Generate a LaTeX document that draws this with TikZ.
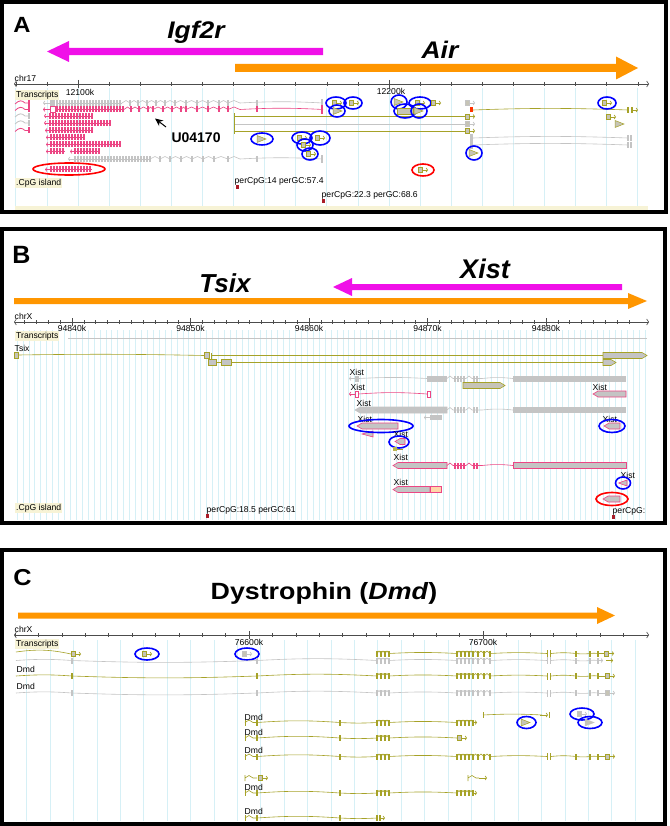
\documentclass[tikz,border=0pt]{standalone}
\usepackage{fontspec}
\setmainfont{Liberation Sans}
\usetikzlibrary{arrows.meta}

\definecolor{geneMagenta}{RGB}{240,16,232}
\definecolor{geneOrange}{RGB}{255,150,0}
\definecolor{txPink}{RGB}{236,70,132}
\definecolor{txGray}{RGB}{196,196,196}
\definecolor{txOlive}{RGB}{166,162,40}
\definecolor{exonFill}{RGB}{198,196,182}
\definecolor{gridCyan}{RGB}{214,240,246}
\definecolor{labelBeige}{RGB}{247,243,214}
\definecolor{cpgRed}{RGB}{170,28,40}
\definecolor{utrOrange}{RGB}{255,214,170}

% gene extent arrow: colour, tail x, tip x, y, half shaft, head length, half head
\newcommand{\genearrow}[7]{%
  \pgfmathsetmacro\gaBase{#3+#6*sign(#2-#3)}%
  \fill[#1] (#2,#4-#5) -- (\gaBase,#4-#5) -- (\gaBase,#4-#7) -- (#3,#4)
    -- (\gaBase,#4+#7) -- (\gaBase,#4+#5) -- (#2,#4+#5) -- cycle;}
% exons every few px along a line: colour, y, first, second, last
\newcommand{\exonrun}[5]{%
  \draw[#1,line width=0.6pt] (#3,#2) -- (#5,#2);
  \foreach \ex in {#3,#4,...,#5} \fill[#1] (\ex-0.9,#2-3) rectangle (\ex+0.9,#2+3);}
% single exons at listed x
\newcommand{\exonset}[3]{%
  \foreach \ex in {#3} \fill[#1] (\ex-0.9,#2-3) rectangle (\ex+0.9,#2+3);}
% zigzag introns between listed x: colour, y, start x, list
\newcommand{\zigrow}[4]{%
  \foreach \zb [remember=\zb as \za (initially #3)] in {#4}
    \draw[#1,line width=0.6pt] (\za,#2) -- ({(\za+\zb)/2},#2-2.5) -- (\zb,#2);}
% small exon with forward arrow
\newcommand{\exarrow}[3]{%
  \filldraw[fill=exonFill,draw=#1,line width=0.5pt] (#2-3,#3-2.5) rectangle (#2+1,#3+2.5);
  \draw[#1,line width=0.7pt,-{Straight Barb[length=1.5pt,width=4pt]}] (#2+1,#3) -- (#2+7,#3);}
% small forward triangle
\newcommand{\extri}[3]{%
  \filldraw[fill=exonFill,draw=#1,line width=0.5pt] (#2-4,#3-3.5) -- (#2+5,#3) -- (#2-4,#3+3.5) -- cycle;}
% pointed boxes: outline, fill, x0, x1, y
\newcommand{\revbox}[5]{%
  \filldraw[fill=#2,draw=#1,line width=0.6pt] (#3,#5) -- (#3+5,#5-3) -- (#4,#5-3) -- (#4,#5+3) -- (#3+5,#5+3) -- cycle;}
\newcommand{\fwdbox}[5]{%
  \filldraw[fill=#2,draw=#1,line width=0.6pt] (#4,#5) -- (#4-5,#5-3) -- (#3,#5-3) -- (#3,#5+3) -- (#4-5,#5+3) -- cycle;}
% left squiggle icon of a track row
\newcommand{\txicon}[2]{%
  \draw[#1,line width=0.8pt] (15,#2+1) .. controls (19,#2-3) and (22,#2-3) .. (25,#2) -- (29,#2);
  \fill[#1] (27.5,#2-3) rectangle (29.5,#2+3);}
% ellipse round a hit: style, x, y, rx, ry
\newcommand{\hit}[5]{\draw[#1] (#2,#3) ellipse [x radius=#4pt, y radius=#5pt];}
% reverse tip: colour, from x, to x, y
\newcommand{\revtip}[4]{%
  \draw[#1,line width=0.7pt,-{Straight Barb[length=1.5pt,width=4pt]}] (#2,#4) -- (#3,#4);}
% Xist middle exons: colour, y
\newcommand{\xistmid}[2]{%
  \draw[#1,line width=0.6pt] (447,#2) -- (450,#2-2.5) -- (453,#2) -- (466,#2) -- (469,#2-2.5) -- (472,#2) -- (482,#2) to[bend left=6] (513,#2);
  \foreach \ex in {455,458,461,464,474,477} \fill[#1] (\ex-1,#2-3) rectangle (\ex+1,#2+3);}
% Dmd left part: colour, y
\newcommand{\dmdleft}[2]{%
  \draw[#1,line width=0.6pt] (16,#2) to[bend left=4] (72,#2) to[bend right=2] (257,#2) to[bend left=3] (377,#2);
  \exonset{#1}{#2}{72,257}}
% Dmd start at 76600k: colour, y
\newcommand{\dmdstart}[2]{%
  \draw[#1,line width=0.6pt] (245,#2-3) -- (245,#2+3);
  \draw[#1,line width=0.6pt] (245,#2) -- (249,#2-2.5) -- (253,#2) -- (257,#2) to[bend left=4] (340,#2) to[bend right=3] (377,#2);
  \exonset{#1}{#2}{257,340}}
% Dmd exons right of 76600k: colour, y
\newcommand{\dmdcore}[2]{%
  \exonset{#1}{#2}{377}
  \zigrow{#1}{#2}{377}{381,385,389}
  \exonset{#1}{#2}{381,385,389}
  \draw[#1,line width=0.6pt] (389,#2) to[bend left=3] (457,#2);
  \zigrow{#1}{#2}{457}{461,465,469,473,478,484,490}
  \exonset{#1}{#2}{457,461,465,469,473,478,484,490}
  \draw[#1,line width=0.6pt] (490,#2) to[bend left=3] (547,#2);
  \fill[#1] (546.5,#2-3.5) rectangle (548,#2+3.5);
  \fill[#1] (549.5,#2-3.5) rectangle (551,#2+3.5);
  \draw[#1,line width=0.6pt] (551,#2) to[bend left=6] (576,#2) to[bend right=6] (590,#2) to[bend left=8] (598,#2);
  \exonset{#1}{#2}{576,590,598}}

\begin{document}
\begin{tikzpicture}[x=1pt,y=-1pt,
    panelFrame/.style={line width=3.6pt},
    panelLetter/.style={font=\fontsize{#1}{#1}\selectfont\bfseries, anchor=base, inner sep=0pt},
    geneTitle/.style={font=\fontsize{#1}{#1}\selectfont\bfseries\itshape, anchor=base, inner sep=0pt},
    browserText/.style={font=\fontsize{8.6}{9}\selectfont, inner sep=0.5pt},
    trackLabel/.style={browserText, fill=labelBeige, inner sep=1pt, anchor=west},
    rowLabel/.style={browserText, anchor=west},
    rulerLine/.style={line width=0.6pt, black!70},
    rulerEnds/.style={rulerLine, {Straight Barb[length=2pt,width=6pt]}-{Straight Barb[length=2pt,width=6pt]}},
    gridLine/.style={gridCyan, line width=0.7pt},
    hitBlue/.style={blue, line width=1.6pt},
    hitRed/.style={red, line width=1.6pt},
    intron/.style={line width=0.6pt},
    fwdTip/.style={line width=0.7pt, -{Straight Barb[length=1.5pt,width=4pt]}},
]
\useasboundingbox (0,0) rectangle (669,826);
\fill[white] (0,0) rectangle (669,826);

% Panel A: Igf2r and Air
\foreach \gk in {0,...,20} \draw[gridLine] (15.8+31.1*\gk,88) -- (15.8+31.1*\gk,206);
\fill[labelBeige] (15,206) rectangle (648,210);
\node[panelLetter=22, xscale=1.08] (labA) at (22,33) {A};
\node[geneTitle=24, xscale=1.1] (titleIgf) at (196,38.5) {Igf2r};
\node[geneTitle=24, xscale=1.1] (titleAir) at (440,59) {Air};
\genearrow{geneMagenta}{323}{47}{51.5}{3.7}{22}{10.5}
\genearrow{geneOrange}{235}{638}{68}{4}{22}{11.5}
% ruler
\node[browserText, anchor=south west] (chrA) at (14,82) {chr17};
\draw[rulerEnds] (14,84) -- (649,84);
\foreach \gk in {0,...,20} \draw[rulerLine] (15.8+31.1*\gk,82) -- (15.8+31.1*\gk,86);
\draw[rulerLine] (78,80) -- (78,88) (389,80) -- (389,88);
\node[browserText] (tickA1) at (80,92) {12100k};
\node[browserText] (tickA2) at (391,91) {12200k};
\node[trackLabel] (trA) at (15,95) {Transcripts};
% left icons
\txicon{txPink}{103}
\txicon{txPink}{109.5}
\txicon{txGray}{116}
\txicon{txGray}{123}
\txicon{txPink}{130.5}
% Igf2r transcripts
\revtip{txGray}{50}{43}{103}
\fill[txGray] (50,100) rectangle (55,106);
\exonrun{txGray}{103}{57}{60}{122}
\zigrow{txGray}{103}{122}{130,138,147,156,165,175,186,197,208,219,228,240}
\exonset{txGray}{103}{130,138,147,156,165,175,186,197,208,219,228,257}
\draw[txGray,intron] (240,103) to[bend left=3] (323,103);
\fill[txGray] (321,99) rectangle (323,107);
\revtip{txPink}{50}{43}{109.5}
\draw[txPink,line width=0.6pt] (50,106.5) rectangle (55,112.5);
\exonrun{txPink}{109.5}{57}{60}{124}
\zigrow{txPink}{109.5}{124}{131,139,148,153,163,172,181,186,197,208,219,228,240}
\exonset{txPink}{109.5}{131,139,148,153,163,172,181,186,197,208,219,228,257}
\draw[txPink,intron] (240,109.5) to[bend left=3] (323,109.5);
\fill[txPink] (321,105) rectangle (323,114);
\revtip{txPink}{50}{44}{116}   \exonrun{txPink}{116}{50}{53}{92}
\revtip{txPink}{50}{44}{123}   \exonrun{txPink}{123}{50}{53}{110}
\revtip{txPink}{50}{45}{130.5} \exonrun{txPink}{130.5}{50}{53}{93}
\revtip{txPink}{51}{46}{137.5} \exonrun{txPink}{137.5}{51}{54}{85}
\revtip{txPink}{51}{46}{144.5} \exonrun{txPink}{144.5}{51}{54}{120}
\revtip{txPink}{51}{46}{151.5} \exonrun{txPink}{151.5}{51}{54}{65}
\revtip{txPink}{75}{70}{151.5} \exonrun{txPink}{151.5}{75}{78}{100}
\revtip{txGray}{75}{68}{159}
\exonrun{txGray}{159}{75}{78}{150}
\zigrow{txGray}{159}{150}{160,170,181,192,203,214,228,240}
\exonset{txGray}{159}{160,170,181,192,203,214,228,257}
\draw[txGray,intron] (240,159) to[bend left=3] (322,159);
\fill[txGray] (321,155) rectangle (323,163);
\revtip{txPink}{51}{45}{169.5} \exonrun{txPink}{169.5}{51}{54}{92}
\hit{hitRed}{69}{169}{36}{6}
% Air transcripts
\fill[txOlive] (233.5,113) rectangle (235,134);
\draw[txOlive,intron] (235,116.5) -- (466,116.5);
\draw[txGray,intron] (235,124) -- (466,124);
\draw[txOlive,intron] (235,131) -- (466,131);
\exarrow{txOlive}{468}{116.5}
\exarrow{txGray}{468}{124}
\exarrow{txOlive}{468}{131}
\exarrow{txGray}{468}{103}
\fill[red!60!orange] (470,107.5) rectangle (473,112.5);
\draw[txOlive,intron] (473,110) to[bend left=2] (628,110);
\exonset{txOlive}{110}{628,632}
\draw[txOlive,fwdTip] (632,110) -- (638,110);
\exarrow{txOlive}{609}{117}
\extri{txOlive}{619}{124}
\fill[txGray] (470,134) rectangle (473,149);
\draw[txGray,intron] (473,138) to[bend left=2] (628,138);
\draw[txGray,intron] (473,145) to[bend left=2] (628,145);
\exonset{txGray}{138}{628,631}
\exonset{txGray}{145}{628,631}
% hits
\exarrow{txOlive}{335}{103}  \hit{hitBlue}{336}{103}{10}{6}
\exarrow{txOlive}{352}{103}  \hit{hitBlue}{353}{103}{9}{6}
\extri{txOlive}{337}{111}    \hit{hitBlue}{337}{111}{8}{6}
\extri{txOlive}{398}{102}    \hit{hitBlue}{399}{102}{8}{7}
\exarrow{txOlive}{418}{103}  \hit{hitBlue}{420}{103}{11}{6}
\exarrow{txOlive}{434}{103}
\filldraw[fill=exonFill,draw=txOlive,line width=0.5pt] (397,108) rectangle (413,114);
\hit{hitBlue}{405}{111}{11}{7}
\extri{txOlive}{418}{111}    \hit{hitBlue}{419}{111}{8}{7}
\extri{txOlive}{261}{139}    \hit{hitBlue}{262}{139}{11}{6}
\exarrow{txOlive}{300}{138}  \hit{hitBlue}{302}{138}{10}{6}
\exarrow{txOlive}{318}{138}  \hit{hitBlue}{320}{138}{10}{7}
\exarrow{txOlive}{304}{145}  \hit{hitBlue}{305}{145}{8}{6}
\exarrow{txOlive}{309}{154}  \hit{hitBlue}{310}{154}{8}{6}
\exarrow{txOlive}{605}{103}  \hit{hitBlue}{607}{103}{9}{6}
\extri{txOlive}{473}{153}    \hit{hitBlue}{474}{153}{8}{7}
\exarrow{txOlive}{421}{170}  \hit{hitRed}{423}{170}{11}{6}
% U04170
\node[font=\fontsize{14}{16}\selectfont\bfseries, anchor=west] (accU) at (168,138) {U04170};
\coordinate (uTail) at (166,127);
\coordinate (uTip) at (155,118.5);
\draw[line width=1pt, -{Stealth[length=8pt,width=7pt]}] (uTail) -- (uTip);
% CpG islands
\node[trackLabel] (cpgA) at (15,183) {.CpG island};
\node[browserText, anchor=west] (perA1) at (234,181) {perCpG:14 perGC:57.4};
\fill[cpgRed] (235.5,185) rectangle (239,189);
\node[browserText, anchor=west] (perA2) at (321,195) {perCpG:22.3 perGC:68.6};
\fill[cpgRed] (321.5,199) rectangle (325,203);
\draw[panelFrame] (2,2) rectangle (666,212);

% Panel B: Tsix and Xist
\foreach \gk in {0,...,106} \draw[gridLine] (17+5.925*\gk,330) -- (17+5.925*\gk,520);
\node[panelLetter=25] (labB) at (21.5,263) {B};
\node[geneTitle=26] (titleTsix) at (225,292) {Tsix};
\node[geneTitle=27] (titleXist) at (485,278) {Xist};
\genearrow{geneOrange}{14}{647}{301}{3}{19}{8}
\genearrow{geneMagenta}{622}{333}{287}{3}{19}{9}
% ruler
\node[browserText, anchor=south west] (chrB) at (14,320) {chrX};
\draw[rulerEnds] (14,322) -- (649,322);
\foreach \gk in {0,...,51} \draw[rulerLine] (24.6+11.85*\gk,320) -- (24.6+11.85*\gk,324);
\foreach \mx/\lab [count=\i] in {72/94840k,190.5/94850k,309/94860k,427.5/94870k,546/94880k} {
  \draw[rulerLine] (\mx,318) -- (\mx,326);
  \node[browserText] (tkB\i) at (\mx,328.5) {\lab};
}
\node[trackLabel] (trB) at (15,336) {Transcripts};
\draw[txGray, line width=0.5pt] (68,338.5) -- (647,338.5);
% Tsix transcripts
\node[rowLabel] (tsixLab) at (14,348) {Tsix};
\filldraw[fill=exonFill,draw=txOlive,line width=0.5pt] (14,352) rectangle (18,358);
\draw[txOlive,intron] (18,355) to[bend left=1] (204,355.5);
\filldraw[fill=txGray,draw=txOlive,line width=0.5pt] (204,352.5) rectangle (209,358.5);
\fill[txOlive] (211,352.5) rectangle (212,358.5);
\draw[txOlive,intron] (212,355.5) -- (603,355.5);
\fwdbox{txOlive}{txGray}{603}{647}{355.5}
\filldraw[fill=txGray,draw=txOlive,line width=0.5pt] (208,359.5) rectangle (216,365.5);
\draw[txOlive,intron] (216,362.5) -- (221,362.5);
\filldraw[fill=txGray,draw=txOlive,line width=0.5pt] (221,359.5) rectangle (231,365.5);
\draw[txOlive,intron] (231,362.5) -- (603,362.5);
\fwdbox{txOlive}{txGray}{603}{616}{362.5}
% Xist transcripts
\node[rowLabel] (xist1) at (349,372) {Xist};
\revtip{txGray}{356}{349}{378.5}
\fill[txGray] (355,375.5) rectangle (359,381.5);
\draw[txGray,intron] (359,378.5) to[bend left=3] (427,378.5);
\fill[txGray] (427,375.5) rectangle (447,381.5);
\xistmid{txGray}{378.5}
\fill[txGray] (513,375.5) rectangle (626,381.5);
\fwdbox{txOlive}{exonFill}{463}{505}{385.5}
\node[rowLabel] (xist2) at (350,387) {Xist};
\revtip{txPink}{356}{349}{394}
\draw[txPink,line width=0.6pt] (355.5,391) rectangle (358.5,397);
\draw[txPink,intron] (358.5,394) to[bend left=4] (427,394);
\draw[txPink,line width=0.6pt] (427,391) rectangle (430,397);
\node[rowLabel] (xist3) at (592,387) {Xist};
\revbox{txPink}{txGray}{593}{626}{394}
\node[rowLabel] (xist4) at (356,403) {Xist};
\revbox{txGray}{txGray}{355}{447}{410}
\xistmid{txGray}{410}
\fill[txGray] (513,407) rectangle (626,413);
\revtip{txGray}{430}{424}{417.5}
\fill[txGray] (430,415) rectangle (442,420);
\node[rowLabel] (xist5) at (357,419) {Xist};
\revbox{txPink}{txGray}{357}{398}{426}
\filldraw[fill=txGray,draw=txPink,line width=0.6pt] (362,434) -- (373,431) -- (373,437) -- cycle;
\hit{hitBlue}{381}{426}{32}{6.5}
\node[rowLabel] (xist6) at (602,419) {Xist};
\revbox{txPink}{txGray}{604}{620}{426}
\hit{hitBlue}{612}{426}{13}{6.5}
\node[rowLabel] (xist7) at (393,434) {Xist};
\revbox{txPink}{txGray}{395}{405}{441.5}
\hit{hitBlue}{399}{442}{10}{6}
\fill[txOlive!80] (393,447) rectangle (397,451);
\draw[txOlive,line width=0.6pt] (397,449) -- (403,449);
\node[rowLabel] (xist8) at (393,457) {Xist};
\revbox{txPink}{txGray}{393}{447}{465.5}
\xistmid{txPink}{465.5}
\filldraw[fill=txGray,draw=txPink,line width=0.6pt] (513,462.5) rectangle (626,468.5);
\node[rowLabel] (xist9) at (620,475) {Xist};
\filldraw[fill=txGray,draw=txPink,line width=0.6pt] (618.5,483) -- (627,480) -- (627,486) -- cycle;
\hit{hitBlue}{623}{483}{7.5}{6}
\node[rowLabel] (xist10) at (393,482) {Xist};
\revbox{txPink}{txGray}{393}{430}{489.5}
\filldraw[fill=utrOrange,draw=txPink,line width=0.6pt] (430,486.5) rectangle (441,492.5);
\revbox{txPink}{txGray}{603}{620}{499}
\hit{hitRed}{612}{499}{16}{6.5}
% CpG islands
\node[trackLabel] (cpgB) at (15,508) {.CpG island};
\node[browserText, anchor=west] (perB1) at (206,510) {perCpG:18.5 perGC:61};
\fill[cpgRed] (205.5,514) rectangle (209,518);
\node[browserText, anchor=west] (perB2) at (612,511) {perCpG:};
\fill[cpgRed] (611.5,515) rectangle (615,519);
\draw[panelFrame] (2,229) rectangle (665,523);

% Panel C: Dystrophin
\foreach \gk in {0,...,26} \draw[gridLine] (26.7+23.4*\gk,640) -- (26.7+23.4*\gk,821);
\node[panelLetter=23, xscale=1.1] (labC) at (22.5,585) {C};
\node[font=\fontsize{23.5}{26}\selectfont\bfseries, anchor=base, inner sep=0pt, xscale=1.14] (titleDmd) at (324,599.5) {Dystrophin (\textit{Dmd})};
\genearrow{geneOrange}{18}{615}{615.5}{3}{18}{8.5}
% ruler
\node[browserText, anchor=south west] (chrC) at (14,633) {chrX};
\draw[rulerEnds] (14,635) -- (649,635);
\foreach \gk in {0,...,26} \draw[rulerLine] (15+23.4*\gk,633) -- (15+23.4*\gk,637);
\draw[rulerLine] (249,631) -- (249,639) (483,631) -- (483,639);
\node[browserText] (tkC1) at (249,642.5) {76600k};
\node[browserText] (tkC2) at (483,642.5) {76700k};
\node[trackLabel] (trC) at (15,644) {Transcripts};
% Dmd transcripts
\draw[txOlive,intron] (16,652) to[bend left=10] (71,654);
\exarrow{txOlive}{74}{654}
\exarrow{txOlive}{145}{654}  \hit{hitBlue}{147}{654}{12}{6}
\exarrow{txGray}{245}{654}   \hit{hitBlue}{247}{654}{12}{6}
\dmdcore{txOlive}{653.5}
\draw[txOlive,intron] (598,653.5) -- (604,653.5);
\exarrow{txOlive}{607}{653.5}
\dmdleft{txGray}{660.5}
\dmdcore{txGray}{660.5}
\draw[txGray,fwdTip] (598,660.5) -- (603,660.5);
\draw[txOlive,fwdTip] (606,660.5) -- (613,660.5);
\node[rowLabel] (dmd1) at (16,669) {Dmd};
\dmdleft{txOlive}{676}
\dmdcore{txOlive}{676}
\draw[txOlive,intron] (598,676) -- (605,676);
\exarrow{txOlive}{608}{676}
\node[rowLabel] (dmd2) at (16,686.5) {Dmd};
\dmdleft{txGray}{693}
\dmdcore{txGray}{693}
\draw[txGray,intron] (598,693) -- (605,693);
\exarrow{txGray}{608}{693}
\draw[txOlive,line width=0.6pt] (483,712) -- (483,718);
\draw[txOlive,intron] (483,715) to[bend left=3] (542,715);
\draw[txOlive,fwdTip] (540,715) -- (548,715);
\draw[txOlive,line width=0.6pt] (549,712) -- (549,718);
\extri{txOlive}{525}{722.5}   \hit{hitBlue}{526.5}{722.5}{9.5}{6}
\exarrow{txGray}{580}{714}    \hit{hitBlue}{582}{714}{12}{6}
\extri{txGray}{589}{722.5}    \hit{hitBlue}{590}{722.5}{12}{6}
\node[rowLabel] (dmd3) at (244,717) {Dmd};
\dmdstart{txOlive}{722.5}
\zigrow{txOlive}{722.5}{377}{381,385,389}
\exonset{txOlive}{722.5}{377,381,385,389}
\draw[txOlive,intron] (389,722.5) to[bend left=3] (457,722.5);
\zigrow{txOlive}{722.5}{457}{461,465,469,473}
\exonset{txOlive}{722.5}{457,461,465,469,473}
\draw[txOlive,fwdTip] (473,722.5) -- (477,722.5);
\node[rowLabel] (dmd4) at (244,732) {Dmd};
\dmdstart{txOlive}{738}
\zigrow{txOlive}{738}{377}{381,385,389}
\exonset{txOlive}{738}{377,381,385,389}
\draw[txOlive,intron] (389,738) to[bend left=3] (457,738);
\exarrow{txOlive}{460}{738}
\node[rowLabel] (dmd5) at (244,750) {Dmd};
\dmdstart{txOlive}{756.5}
\dmdcore{txOlive}{756.5}
\draw[txOlive,intron] (598,756.5) -- (605,756.5);
\exarrow{txOlive}{608}{756.5}
\draw[txOlive,line width=0.6pt] (245,775) -- (245,781) (245,778) -- (249,775.5) -- (253,778) -- (257,778);
\exarrow{txOlive}{261}{778}
\draw[txOlive,line width=0.6pt] (468,775) -- (468,781) (468,778) -- (472,775.5) -- (476,778) -- (479,778);
\draw[txOlive,fwdTip] (479,778) -- (487,778);
\node[rowLabel] (dmd6) at (244,787) {Dmd};
\dmdstart{txOlive}{793}
\zigrow{txOlive}{793}{377}{381,385,389}
\exonset{txOlive}{793}{377,381,385,389}
\draw[txOlive,intron] (389,793) to[bend left=3] (457,793);
\zigrow{txOlive}{793}{457}{461,465,469,473}
\exonset{txOlive}{793}{457,461,465,469,473}
\draw[txOlive,fwdTip] (473,793) -- (477,793);
\node[rowLabel] (dmd7) at (244,811) {Dmd};
\dmdstart{txOlive}{818}
\exonset{txOlive}{818}{377,380}
\draw[txOlive,fwdTip] (380,818) -- (385,818);
\draw[panelFrame] (2,550) rectangle (665,824);
\end{tikzpicture}
\end{document}
